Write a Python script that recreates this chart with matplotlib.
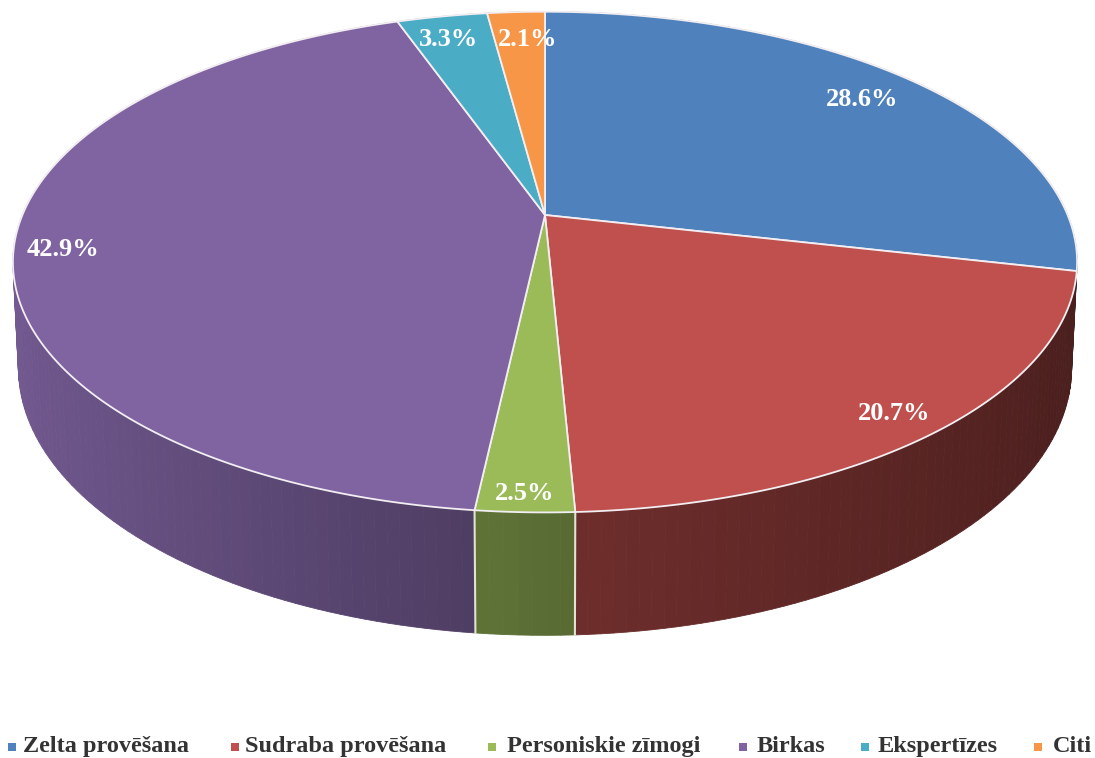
import numpy as np
from matplotlib import pyplot as plt

categories = ["Zelta provēšana", "Sudraba provēšana", "Personiskie zīmogi", "Birkas", "Ekspertīzes", "Citi"]
values = [28.6, 20.7, 2.5, 42.9, 3.3, 2.1]
labels = ["28.6%", "20.7%", "2.5%", "42.9%", "3.3%", "2.1%"]
colors = ["#4f81bd", "#c0504d", "#9bbb59", "#8064a2", "#4bacc6", "#f79646"]

# pixel layout of the picture
label_xy = [(862, 100), (894, 414), (525, 493), (63, 249), (448, 39), (528, 39)]
legend_x = [12, 235, 492, 743, 865, 1038]
legend_text_x = [23, 245, 507, 757, 878, 1053]
legend_y = 747
legend_base = 752

CX, CY = 545, 215
A, B, K = 522.6, 241.5, 0.188
DEPTH, M = 104, 0.01


def project(theta, r=1.0, h=0.0):
    # theta runs clockwise from 12 o'clock, h=1 is the bottom of the disc
    u = r * np.sin(theta)
    v = r * np.cos(theta)
    w = 1 + K * v + M * h
    return CX + A * u / w, CY - (B * v - DEPTH * h) / w


def shade(color, u):
    rgb = np.array(plt.matplotlib.colors.to_rgb(color))
    return tuple(rgb * np.interp(u, [-1, 0, 1], [0.9, 0.58, 0.38]))


fig = plt.figure(figsize=(10.95, 7.58), dpi=100)
ax = fig.add_axes([0, 0, 1, 1])
ax.set_xlim(0, 1095)
ax.set_ylim(758, 0)
ax.axis("off")

edges = np.concatenate([[0], np.cumsum(values)]) / np.sum(values) * 2 * np.pi

# side wall, cut in thin strips so the shade can change round the disc
for i in range(len(values)):
    n = max(2, int((edges[i + 1] - edges[i]) / 0.02))
    t = np.linspace(edges[i], edges[i + 1], n + 1)
    for a, b in zip(t[:-1], t[1:]):
        x1, y1 = project(np.array([a, b]))
        x2, y2 = project(np.array([b, a]), h=1)
        c = shade(colors[i], np.sin((a + b) / 2))
        ax.fill(np.r_[x1, x2], np.r_[y1, y2], color=c, lw=0.6, zorder=2)

# lines between the wall pieces at the front
for e in edges[2:4]:
    x, y = project(np.array([e, e]), h=np.array([0, 1]))
    ax.plot(x, y, color="#dfe3cf", lw=1.5, zorder=3)

# top of the disc
for i in range(len(values)):
    t = np.linspace(edges[i], edges[i + 1], 200)
    x, y = project(t)
    ax.fill(np.r_[CX, x], np.r_[CY, y], facecolor=colors[i], edgecolor="#f2eef2", lw=1.3, zorder=4, joinstyle="round")

for txt, (x, y) in zip(labels, label_xy):
    ax.text(x, y, txt, color="white", fontsize=19, fontweight="bold", family="Liberation Serif",
            ha="center", va="center", zorder=5)

for name, col, x, tx in zip(categories, colors, legend_x, legend_text_x):
    ax.scatter([x], [legend_y], marker="s", s=36, color=col, linewidths=0)
    ax.text(tx, legend_base, name, color="#333333", fontsize=17.5, fontweight="bold",
            family="Liberation Serif", ha="left", va="baseline")

fig.savefig("out.png", dpi=100)
